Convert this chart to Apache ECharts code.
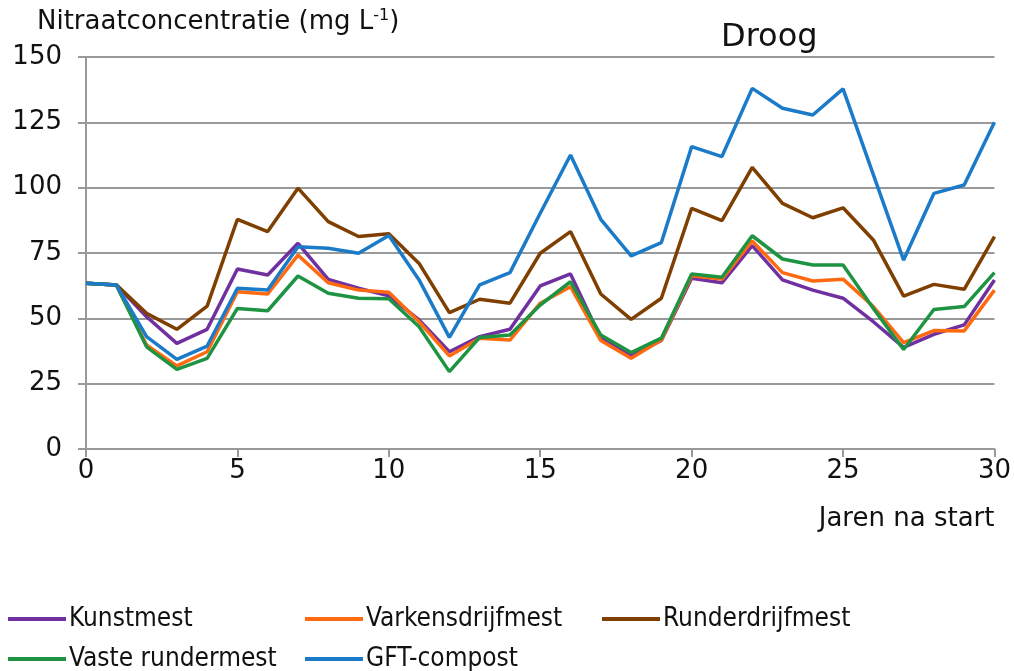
<!DOCTYPE html>
<html>
<head>
<meta charset="utf-8">
<script src="https://cdn.jsdelivr.net/npm/echarts@6/dist/echarts.min.js"></script>
<style>
  html, body { margin: 0; padding: 0; background: #fff; }
  #chart { width: 1014px; height: 671px; }
</style>
</head>
<body>
<div id="chart"></div>
<script>
var years = [0, 1, 2, 3, 4, 5, 6, 7, 8, 9, 10, 11, 12, 13, 14, 15, 16, 17, 18, 19, 20, 21, 22, 23, 24, 25, 26, 27, 28, 29, 30];

var kunstmest = [63.4, 62.8, 50.6, 40.4, 45.8, 68.9, 66.6, 78.7, 64.9, 61.5, 58.6, 49.4, 37.2, 43, 45.8, 62.4, 67, 42.4, 35.6, 41.5, 65.3, 63.6, 77.8, 64.7, 60.8, 57.7, 48.7, 38.9, 43.9, 47.5, 64.7];
var varkensdrijfmest = [63.4, 62.8, 39.8, 31.8, 37.2, 60.2, 59.3, 74.2, 63.6, 60.8, 60, 48.7, 35.6, 42.4, 41.7, 55.8, 62.1, 41.5, 34.7, 41.7, 66.3, 65, 79.6, 67.5, 64.3, 65, 54.5, 40.7, 45.3, 45.2, 60.8];
var runderdrijfmest = [63.4, 62.8, 51.9, 45.8, 54.7, 87.9, 83.2, 99.8, 87, 81.3, 82.4, 71, 52.2, 57.3, 55.8, 74.9, 83.2, 59.3, 49.6, 57.7, 92.1, 87.4, 107.8, 94, 88.5, 92.3, 80, 58.5, 63, 61.1, 81.3];
var vasteRundermest = [63.4, 62.8, 39.1, 30.5, 34.7, 53.8, 52.9, 66.2, 59.6, 57.7, 57.5, 46.8, 29.6, 42.7, 43.6, 55.1, 64, 43.6, 36.9, 42.4, 67, 65.7, 81.6, 72.7, 70.4, 70.4, 53.8, 38.1, 53.4, 54.5, 67.5];
var gftCompost = [63.4, 62.8, 43, 34.3, 39.4, 61.5, 60.8, 77.4, 76.8, 74.9, 81.7, 64.7, 42.7, 62.8, 67.5, 90.2, 112.5, 87.9, 73.9, 79, 115.7, 111.9, 138, 130.4, 127.8, 137.8, 105, 72.3, 97.8, 101, 125];

var seriesNames = ["Kunstmest", "Varkensdrijfmest", "Runderdrijfmest", "Vaste rundermest", "GFT-compost"];
var seriesColors = ["#7030A0", "#FF6A10", "#7F3F00", "#1E9443", "#1B7BC8"];
var seriesData = [kunstmest, varkensdrijfmest, runderdrijfmest, vasteRundermest, gftCompost];

// legend slots (left, top) per series
var legendPos = [[8, 606], [305, 606], [602, 606], [8, 646], [305, 646]];

function pairs(vals) {
  return years.map(function (y, i) { return [y, vals[i]]; });
}

var font = "DejaVu Sans";
var legendFont = "'DejaVu Sans Condensed', 'DejaVu Sans'";
var myChart = echarts.init(document.getElementById("chart"));

var series = seriesNames.map(function (name, i) {
  return {
    name: name,
    type: "line",
    data: pairs(seriesData[i]),
    showSymbol: false,
    symbol: "none",
    lineStyle: { color: seriesColors[i], width: 3.5 },
    itemStyle: { color: seriesColors[i] },
  };
});

var legends = seriesNames.map(function (name, i) {
  return {
    left: legendPos[i][0],
    top: legendPos[i][1],
    padding: 0,
    itemWidth: 58,
    itemHeight: 4,
    icon: "rect",
    data: [{ name: name, itemStyle: { color: seriesColors[i] } }],
    textStyle: { fontFamily: legendFont, fontSize: 26, color: "#111", padding: [0, 0, 0, -2] },
  };
});

var option = {
  backgroundColor: "#fff",
  animation: false,
  textStyle: { fontFamily: font },
  title: {
    text: "Droog",
    left: 716,
    top: 17,
    textStyle: { fontFamily: font, fontSize: 32, fontWeight: "normal", color: "#111" },
  },
  grid: {
    left: 86,
    right: 16,
    top: 57,
    bottom: 222,
    containLabel: false,
  },
  xAxis: {
    type: "value",
    min: 0,
    max: 30,
    interval: 5,
    name: "Jaren na start",
    nameLocation: "end",
    nameGap: 0,
    nameTextStyle: {
      fontFamily: font, fontSize: 26, color: "#111",
      align: "right", verticalAlign: "top", padding: [57, 0, 0, 0],
    },
    axisLine: { show: true, lineStyle: { color: "#999", width: 2 } },
    axisTick: { show: true, length: 8, inside: false, lineStyle: { color: "#999", width: 2 } },
    axisLabel: { fontFamily: font, fontSize: 26, color: "#111", margin: 9 },
    splitLine: { show: false },
  },
  yAxis: {
    type: "value",
    min: 0,
    max: 150,
    interval: 25,
    name: "{t|Nitraatconcentratie (mg L}{s|-1}{t|)}",
    nameLocation: "end",
    nameGap: 21,
    nameTextStyle: {
      align: "left",
      padding: [0, 0, 0, -49],
      rich: {
        t: { fontFamily: font, fontSize: 26, color: "#111" },
        s: { fontFamily: font, fontSize: 16, color: "#111", verticalAlign: "top", padding: [0, 0, 12, 0] },
      },
    },
    axisLine: { show: true, lineStyle: { color: "#999", width: 2 } },
    axisTick: { show: true, length: 8, lineStyle: { color: "#999", width: 2 } },
    axisLabel: { fontFamily: font, fontSize: 26, color: "#111", margin: 24 },
    splitLine: { show: true, lineStyle: { color: "#999", width: 2 } },
  },
  legend: legends,
  series: series,
};

myChart.setOption(option);
</script>
</body>
</html>
